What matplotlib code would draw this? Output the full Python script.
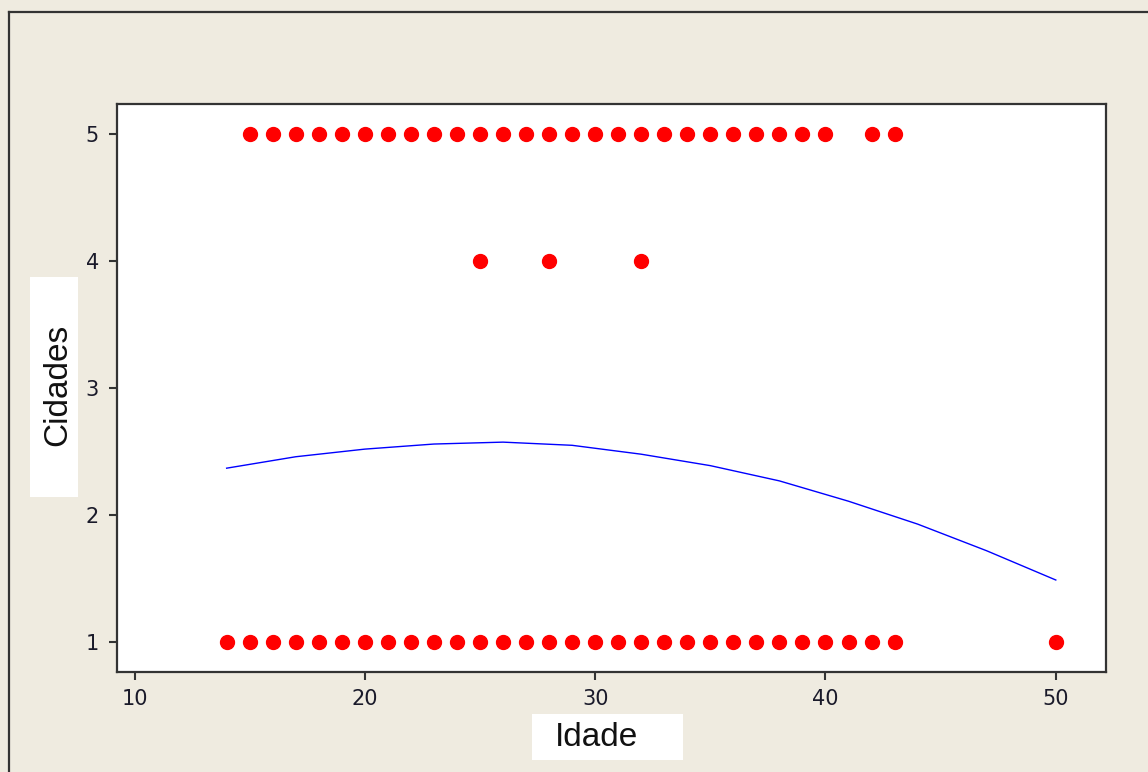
import matplotlib.pyplot as plt
from matplotlib.patches import Rectangle
from matplotlib.lines import Line2D

# ages observed for each city code
idade_cid5 = [15, 16, 17, 18, 19, 20, 21, 22, 23, 24, 25, 26, 27, 28, 29, 30,
              31, 32, 33, 34, 35, 36, 37, 38, 39, 40, 42, 43]
idade_cid4 = [25, 28, 32]
idade_cid1 = [14, 15, 16, 17, 18, 19, 20, 21, 22, 23, 24, 25, 26, 27, 28, 29,
              30, 31, 32, 33, 34, 35, 36, 37, 38, 39, 40, 41, 42, 43, 50]

# fitted curve (idade vs predicted cidade)
idade_fit = [14, 17, 20, 23, 26, 29, 32, 35, 38, 41, 44, 47, 50]
cidade_fit = [2.37, 2.46, 2.52, 2.56, 2.575, 2.55, 2.48, 2.39, 2.27, 2.11,
              1.93, 1.72, 1.49]

x_ticks = [10, 20, 30, 40, 50]
y_ticks = [1, 2, 3, 4, 5]

bg = "#efebe0"
edge = "#333333"

plt.rcParams['font.family'] = ['Liberation Sans', 'DejaVu Sans']

fig = plt.figure(figsize=(11.48, 7.72), dpi=100, facecolor=bg)
ax = fig.add_axes([117 / 1148, 1 - 672 / 772, 989 / 1148, 568 / 772])
ax.set_facecolor("white")

ax.scatter(idade_cid5, [5] * len(idade_cid5), s=100, color="red", zorder=3)
ax.scatter(idade_cid4, [4] * len(idade_cid4), s=100, color="red", zorder=3)
ax.scatter(idade_cid1, [1] * len(idade_cid1), s=100, color="red", zorder=3)
ax.plot(idade_fit, cidade_fit, color="blue", lw=1, zorder=2)

ax.set_xlim(9.24, 52.18)
ax.set_ylim(0.766, 5.236)
ax.set_xticks(x_ticks)
ax.set_yticks(y_ticks)
ax.tick_params(direction="out", length=6, width=1.5, color=edge,
               labelsize=15, labelcolor="#1a1a2a")
ax.tick_params(axis="x", pad=6)
ax.tick_params(axis="y", pad=7)
for lbl in ax.get_xticklabels() + ax.get_yticklabels():
    lbl.set_family("DejaVu Sans")
for s in ax.spines.values():
    s.set_color(edge)
    s.set_linewidth(1.6)

# outer frame (left and top)
fig.add_artist(Line2D([9 / 1148, 9 / 1148], [0, 1 - 12 / 772],
                      transform=fig.transFigure, color=edge, lw=1.6))
fig.add_artist(Line2D([9 / 1148, 1], [1 - 12 / 772, 1 - 12 / 772],
                      transform=fig.transFigure, color=edge, lw=1.6))

# axis labels in white boxes
fig.add_artist(Rectangle((30 / 1148, 1 - 497 / 772), 48 / 1148, 220 / 772,
                         transform=fig.transFigure, facecolor="white",
                         edgecolor="none"))
fig.text(58 / 1148, 1 - 385 / 772, "Cidades", rotation=90, fontsize=24,
         ha="center", va="center", color="#111111")

fig.add_artist(Rectangle((532 / 1148, 1 - 760 / 772), 151 / 1148, 46 / 772,
                         transform=fig.transFigure, facecolor="white",
                         edgecolor="none"))
fig.text(597 / 1148, 1 - 738 / 772, "Idade", fontsize=24,
         ha="center", va="center", color="#111111")

plt.savefig("out.png", facecolor=bg)
